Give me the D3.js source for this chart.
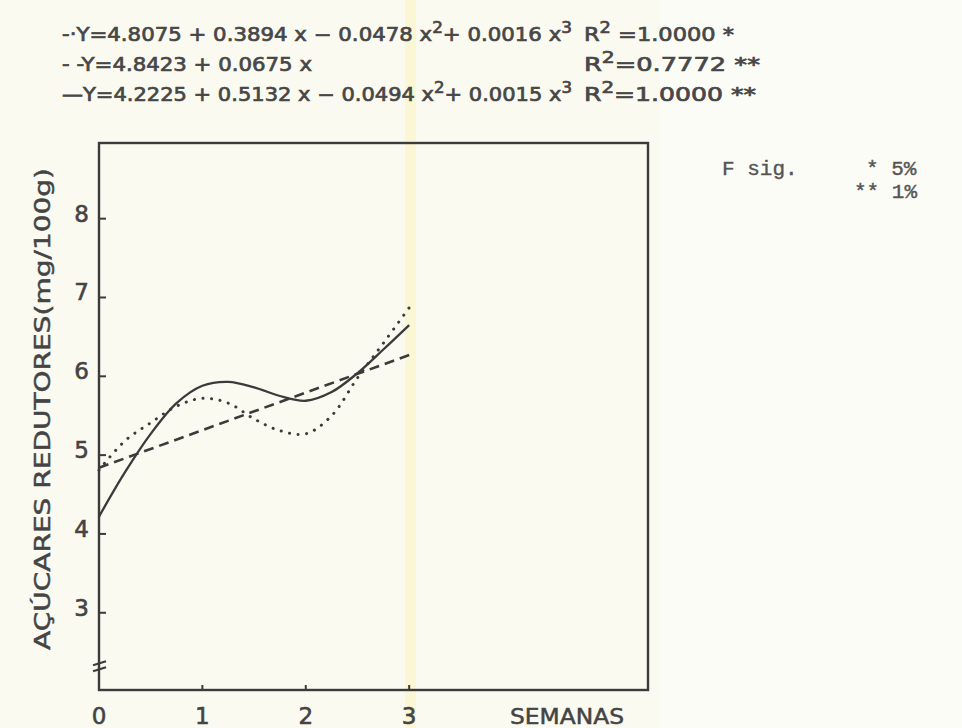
<!DOCTYPE html>
<html>
<head>
<meta charset="utf-8">
<script src="https://cdn.jsdelivr.net/npm/d3@7"></script>
<style>
  html, body { margin: 0; padding: 0; background: #fbfaf0; }
  svg { display: block; }
</style>
</head>
<body>
<div id="chart"></div>
<script>
// values (weeks vs reducing sugars, mg/100g)
const weeks = [0, 0.25, 0.5, 0.75, 1, 1.25, 1.5, 1.75, 2, 2.25, 2.5, 2.75, 3];
const dottedValues = [4.81, 5.18, 5.41, 5.62, 5.72, 5.66, 5.46, 5.31, 5.27, 5.5, 5.98, 6.42, 6.87];
const solidValues = [4.22, 4.78, 5.27, 5.66, 5.88, 5.93, 5.86, 5.75, 5.69, 5.8, 6.04, 6.34, 6.65];
const dashedWeeks = [0, 3];
const dashedValues = [4.84, 6.27];
const xTicks = [0, 1, 2, 3];
const yTicks = [3, 4, 5, 6, 7, 8];

const equations = [
  { parts: [["-·Y=4.8075 + 0.3894 x − 0.0478 x"], ["2", 1], ["+ 0.0016 x"], ["3", 1]], len: 510,
    r2: [["R"], ["2", 1], [" =1.0000 *"]], r2len: 150 },
  { parts: [["- -Y=4.8423 + 0.0675 x"]], len: 250,
    r2: [["R"], ["2", 1], ["=0.7772 **"]], r2len: 176 },
  { parts: [["—Y=4.2225 + 0.5132 x − 0.0494 x"], ["2", 1], ["+ 0.0015 x"], ["3", 1]], len: 510,
    r2: [["R"], ["2", 1], ["=1.0000 **"]], r2len: 172 }
];

const width = 962, height = 728;
const ink = "#3b3b3b";
const font = "'DejaVu Sans', sans-serif";

const svg = d3.select("#chart")
  .append("svg")
  .attr("width", width)
  .attr("height", height);

// paper
svg.append("rect").attr("width", width).attr("height", height).attr("fill", "#fbfaf0");
svg.append("rect").attr("x", 660).attr("width", width - 660).attr("height", height).attr("fill", "#fcfcf6");
svg.append("rect").attr("x", 405).attr("width", 11).attr("height", height).attr("fill", "#fbf3c8").attr("opacity", 0.7);

const x = d3.scaleLinear().domain([0, 5.31]).range([99, 648]);
const y = d3.scaleLinear().domain([2.02, 8.96]).range([690, 143]);

// frame
svg.append("rect")
  .attr("x", x(0)).attr("y", y(8.96))
  .attr("width", x(5.31) - x(0)).attr("height", y(2.02) - y(8.96))
  .attr("fill", "none").attr("stroke", ink).attr("stroke-width", 2.4);

// y ticks (inward) and labels
const yAxis = svg.append("g").attr("transform", `translate(${x(0)},0)`);
yAxis.selectAll("line").data(yTicks).join("line")
  .attr("x1", 0).attr("x2", 7)
  .attr("y1", d => y(d)).attr("y2", d => y(d))
  .attr("stroke", ink).attr("stroke-width", 2);
yAxis.selectAll("text").data(yTicks).join("text")
  .attr("x", -10).attr("y", d => y(d) + 3)
  .attr("text-anchor", "end")
  .attr("font-family", font).attr("font-size", 23).attr("fill", "#444")
  .attr("stroke", "#444").attr("stroke-width", 0.6)
  .text(d => d);

// axis break mark
[0, 6].forEach(dy => {
  svg.append("line")
    .attr("x1", x(0) - 6).attr("y1", y(2.36) + dy + 2)
    .attr("x2", x(0) + 7).attr("y2", y(2.36) + dy - 2)
    .attr("stroke", ink).attr("stroke-width", 2.2);
});

// x ticks (inward) and labels
const xAxis = svg.append("g").attr("transform", `translate(0,${y(2.02)})`);
xAxis.selectAll("line").data(xTicks.slice(1)).join("line")
  .attr("x1", d => x(d)).attr("x2", d => x(d))
  .attr("y1", 0).attr("y2", -5)
  .attr("stroke", ink).attr("stroke-width", 2);
xAxis.selectAll("text").data(xTicks).join("text")
  .attr("x", d => x(d)).attr("y", 34)
  .attr("text-anchor", "middle")
  .attr("font-family", font).attr("font-size", 23).attr("fill", "#444")
  .attr("stroke", "#444").attr("stroke-width", 0.6)
  .text(d => d);
xAxis.append("text")
  .attr("x", 567).attr("y", 34)
  .attr("text-anchor", "middle")
  .attr("font-family", font).attr("font-size", 21).attr("fill", "#444")
  .attr("stroke", "#444").attr("stroke-width", 0.5)
  .attr("textLength", 114).attr("lengthAdjust", "spacingAndGlyphs")
  .text("SEMANAS");

// y title
svg.append("text")
  .attr("transform", `translate(50,409) rotate(-90)`)
  .attr("text-anchor", "middle")
  .attr("font-family", font).attr("font-size", 22).attr("fill", "#444")
  .attr("stroke", "#444").attr("stroke-width", 0.5)
  .attr("textLength", 482).attr("lengthAdjust", "spacingAndGlyphs")
  .text("AÇÚCARES REDUTORES(mg/100g)");

// curves
const line = d3.line()
  .x(d => x(d[0]))
  .y(d => y(d[1]))
  .curve(d3.curveCatmullRom.alpha(0.5));

svg.append("path")
  .datum(d3.zip(weeks, dottedValues))
  .attr("d", line)
  .attr("fill", "none").attr("stroke", ink)
  .attr("stroke-width", 3).attr("stroke-linecap", "round")
  .attr("stroke-dasharray", "0.1 8.5");

svg.append("path")
  .datum(d3.zip(dashedWeeks, dashedValues))
  .attr("d", line)
  .attr("fill", "none").attr("stroke", ink)
  .attr("stroke-width", 2.6)
  .attr("stroke-dasharray", "10 6");

svg.append("path")
  .datum(d3.zip(weeks, solidValues))
  .attr("d", line)
  .attr("fill", "none").attr("stroke", ink)
  .attr("stroke-width", 2.3);

// regression equations on top
function writeParts(sel, parts) {
  let prevSup = false;
  parts.forEach(([t, sup]) => {
    sel.append("tspan")
      .attr("font-size", sup ? 15 : 19)
      .attr("dy", sup ? -8 : (prevSup ? 8 : 0))
      .text(t);
    prevSup = !!sup;
  });
}

equations.forEach((eq, i) => {
  const base = 41 + i * 30;
  const t1 = svg.append("text")
    .attr("x", 62).attr("y", base)
    .attr("font-family", font).attr("fill", "#474747")
    .attr("stroke", "#474747").attr("stroke-width", 0.7)
    .attr("textLength", eq.len).attr("lengthAdjust", "spacingAndGlyphs");
  writeParts(t1, eq.parts);
  const t2 = svg.append("text")
    .attr("x", 584).attr("y", base)
    .attr("font-family", font).attr("fill", "#474747")
    .attr("stroke", "#474747").attr("stroke-width", 0.7)
    .attr("textLength", eq.r2len).attr("lengthAdjust", "spacingAndGlyphs");
  writeParts(t2, eq.r2);
});

// significance note
const mono = "'Liberation Mono', monospace";
const note = svg.append("g").attr("font-family", mono).attr("font-size", 21)
  .attr("fill", "#555").attr("stroke", "#555").attr("stroke-width", 0.4);
note.append("text").attr("x", 722).attr("y", 175).text("F  sig.");
note.append("text").attr("x", 866).attr("y", 175).text("* 5%");
note.append("text").attr("x", 854).attr("y", 198).text("** 1%");
</script>
</body>
</html>
